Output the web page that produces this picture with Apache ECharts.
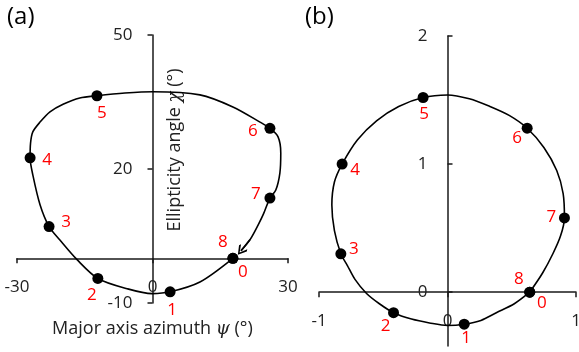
<!DOCTYPE html>
<html>
<head>
<meta charset="utf-8">
<script src="https://cdn.jsdelivr.net/npm/echarts@6/dist/echarts.min.js"></script>
<style>
  html, body { margin: 0; padding: 0; background: #fff; }
  #chart { width: 579px; height: 352px; }
</style>
</head>
<body>
<div id="chart"></div>
<script>
// Panel (a): polarization ellipse parameters (azimuth psi, ellipticity chi), degrees
const stepLabels = ['0', '1', '2', '3', '4', '5', '6', '7', '8'];
const pointsA = [[17.8, 0], [3.9, -7.5], [-12.1, -4.5], [-22.9, 7.1], [-27.1, 22.5],
                 [-12.3, 36.4], [26.0, 29.1], [26.0, 13.5], [17.8, 0]];
// traced trajectory through the steps, ending at the arrowhead
const curveA = [[17.8, 0], [10.5, -5.3], [3.9, -7.5], [-0.1, -7.9], [-5.6, -6.8], [-12.1, -4.5],
                [-16.7, -0.3], [-20.5, 4.1], [-22.9, 7.1], [-24.9, 12.0], [-26.5, 18.7], [-27.1, 22.5],
                [-27.0, 25.8], [-26.5, 28.3], [-24.9, 30.5], [-22.7, 32.8], [-19.8, 34.5], [-16.1, 35.9],
                [-12.3, 36.4], [-6.1, 37.0], [0.1, 37.3], [10.5, 36.6], [17.8, 33.9], [23.8, 30.5],
                [26.0, 29.1], [27.8, 27.2], [28.4, 23.6], [28.2, 19.1], [27.3, 15.3], [26.0, 13.5],
                [24.6, 10.0], [23.4, 7.5], [21.6, 4.2], [19.6, 1.7]];
const xRangeA = [-30, 30];
const yRangeA = [-10, 50];
const xTicksA = [-30, 0, 30];
const yTicksA = [-10, 20, 50];

// Panel (b): same steps on the normalized plane
const pointsB = [[0.64, 0], [0.13, -0.25], [-0.42, -0.16], [-0.83, 0.30], [-0.82, 1.0],
                 [-0.19, 1.52], [0.62, 1.28], [0.91, 0.58], [0.64, 0]];
const curveB = [[0.64, 0], [0.52, -0.09], [0.38, -0.16], [0.26, -0.22], [0.13, -0.25], [0.0, -0.26],
                [-0.14, -0.24], [-0.28, -0.21], [-0.42, -0.16], [-0.53, -0.09], [-0.63, -0.01],
                [-0.72, 0.10], [-0.78, 0.21], [-0.83, 0.30], [-0.88, 0.48], [-0.90, 0.68], [-0.88, 0.86],
                [-0.82, 1.0], [-0.70, 1.19], [-0.55, 1.34], [-0.38, 1.45], [-0.19, 1.52], [0.0, 1.54],
                [0.17, 1.51], [0.33, 1.45], [0.48, 1.38], [0.62, 1.28], [0.75, 1.13], [0.85, 0.95],
                [0.90, 0.77], [0.91, 0.58], [0.88, 0.44], [0.82, 0.30], [0.74, 0.15], [0.64, 0]];
const xRangeB = [-1, 1];
const yRangeB = [-0.42, 2];
const xTicksB = [-1, 0, 1];
const yTicksB = [0, 1, 2];

// label placement around each dot (pixels)
const labelOffsetA = [[10, 14], [2, 18], [-6, 17], [17, -4], [17, 2], [5, 17], [-17, 3], [-14, -4], [-10, -16]];
const labelOffsetB = [[12, 11], [2, 14], [-8, 13], [13, -5], [13, 6], [1, 17], [-10, 10], [-13, -1], [-11, -13]];

const W = 579, H = 352;
const gridA = { left: 17, right: 291, top: 35, bottom: 49 };
const gridB = { left: 319, right: 3, top: 36, bottom: 6 };

const FONT = '"Open Sans", "Liberation Sans", sans-serif';
const INK = '#1a1a1a';
const TXT = '#222';
const RED = '#ff0000';
// open V arrowhead, tip pointing along the line
const chevron = 'path://M0,0 L10,8 L8,10 L0,2.8 L-8,10 L-10,8 Z';

// shift an edge axis so that it crosses the other axis at 0
function zeroShift(size, range) {
  return -size * (0 - range[0]) / (range[1] - range[0]);
}

const chart = echarts.init(document.getElementById('chart'), null, { renderer: 'canvas' });

function valueAxis(gridIndex, range, ticks, extra) {
  const ax = {
    type: 'value', gridIndex, min: range[0], max: range[1],
    splitLine: { show: false },
    axisLine: { show: true, onZero: false, lineStyle: { color: INK, width: 1.5 } },
    axisTick: { show: true, length: 5, customValues: ticks, lineStyle: { color: INK, width: 1.5 } },
    axisLabel: { show: true, customValues: ticks, fontSize: 17, fontFamily: FONT, color: TXT,
                 showMinLabel: true, showMaxLabel: true, margin: 20 }
  };
  return Object.assign(ax, extra || {});
}

function dotSeries(points, offsets, xi, yi) {
  return {
    type: 'scatter', xAxisIndex: xi, yAxisIndex: yi, z: 5,
    symbol: 'circle', symbolSize: 11,
    itemStyle: { color: '#000', opacity: 1 },
    data: points.map((p, i) => ({
      value: p,
      label: { offset: offsets[i] }
    })),
    label: {
      show: true, position: 'inside', color: RED, opacity: 1, fontSize: 17, fontFamily: FONT,
      formatter: (d) => stepLabels[d.dataIndex]
    },
    emphasis: { disabled: true },
    animation: false
  };
}

function curveSeries(curve, xi, yi) {
  return {
    type: 'line', xAxisIndex: xi, yAxisIndex: yi, z: 3,
    data: curve, smooth: 0.3, showSymbol: false, symbol: 'none',
    lineStyle: { color: '#000', width: 1.6, opacity: 1 },
    emphasis: { disabled: true }, animation: false
  };
}

const wA = W - gridA.left - gridA.right, hA = H - gridA.top - gridA.bottom;
const wB = W - gridB.left - gridB.right, hB = H - gridB.top - gridB.bottom;

const nameRich = { i: { fontStyle: 'italic', fontSize: 18, fontFamily: 'DejaVu Serif, serif', color: TXT, fill: TXT } };

const option = {
  animation: false,
  grid: [
    Object.assign({ containLabel: false, outerBoundsMode: 'none' }, gridA),
    Object.assign({ containLabel: false, outerBoundsMode: 'none' }, gridB)
  ],
  xAxis: [
    valueAxis(0, xRangeA, xTicksA, {
      position: 'bottom', offset: zeroShift(hA, yRangeA),
      name: 'Major axis azimuth {i|ψ} (°)', nameLocation: 'middle', nameGap: 62,
      nameTextStyle: { fontSize: 18, fontFamily: FONT, color: TXT, rich: nameRich }
    }),
    valueAxis(1, xRangeB, xTicksB, { position: 'bottom', offset: zeroShift(hB, yRangeB) })
  ],
  yAxis: [
    valueAxis(0, yRangeA, yTicksA, { position: 'left', offset: zeroShift(wA, xRangeA) }),
    valueAxis(1, yRangeB, yTicksB, {
      position: 'left', offset: zeroShift(wB, xRangeB),
      axisTick: { show: true, inside: true, length: 5, customValues: yTicksB, lineStyle: { color: INK, width: 1.5 } }
    })
  ],
  graphic: [
    { type: 'text', left: 7, top: 5, style: { text: '(a)', fontSize: 24, fontFamily: FONT, fill: '#000' } },
    { type: 'text', left: 305, top: 5, style: { text: '(b)', fontSize: 24, fontFamily: FONT, fill: '#000' } },
    { type: 'text', x: 175, y: 150, rotation: Math.PI / 2,
      style: { text: 'Ellipticity angle {i|χ} (°)', fontSize: 18, fontFamily: FONT, fill: TXT,
               align: 'center', verticalAlign: 'middle', rich: nameRich } }
  ],
  series: [
    curveSeries(curveA, 0, 0),
    {
      type: 'lines', coordinateSystem: 'cartesian2d', xAxisIndex: 0, yAxisIndex: 0, z: 6,
      symbol: ['none', chevron], symbolSize: [15, 10],
      lineStyle: { color: '#000', width: 1.6, opacity: 1 },
      itemStyle: { color: '#000', opacity: 1 },
      data: [{ coords: curveA.slice(-2) }],
      animation: false
    },
    dotSeries(pointsA, labelOffsetA, 0, 0),
    curveSeries(curveB, 1, 1),
    dotSeries(pointsB, labelOffsetB, 1, 1)
  ]
};

chart.setOption(option);
</script>
</body>
</html>
